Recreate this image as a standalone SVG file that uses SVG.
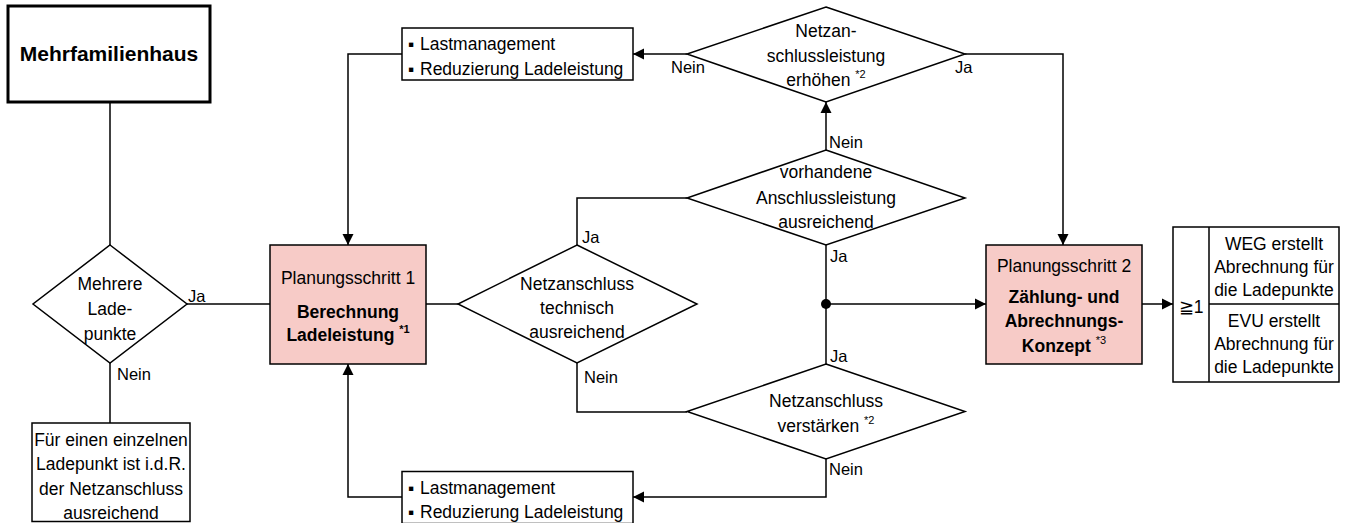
<svg xmlns="http://www.w3.org/2000/svg" width="1347" height="523" viewBox="0 0 1347 523">
<defs>
<style>
.ln{fill:none;stroke:#000;stroke-width:1.5}
.nd{fill:#fff;stroke:#000;stroke-width:1.5}
.pk{fill:#f7cbc7;stroke:#000;stroke-width:1.5}
text{font-family:"Liberation Sans",Arial,sans-serif;font-size:17.5px;fill:#000}
.c{text-anchor:middle}
.b{font-weight:bold}
.lb{font-size:16.5px}
.sup{font-size:11px}
</style>
<marker id="ah" markerUnits="userSpaceOnUse" markerWidth="12" markerHeight="12" viewBox="0 0 12 12" refX="11" refY="6" orient="auto">
<path d="M0,0.5 L11,6 L0,11.5 z" fill="#000"/>
</marker>
</defs>
<rect width="1347" height="523" fill="#fff"/>

<g id="connectors">
<path class="ln" d="M110,102 V245"/>
<path class="ln" d="M187,304 H270"/>
<path class="ln" d="M110,363 V423"/>
<path class="ln" d="M402,54 H348 V245" marker-end="url(#ah)"/>
<path class="ln" d="M402,497 H348 V364" marker-end="url(#ah)"/>
<path class="ln" d="M426,304 H458"/>
<path class="ln" d="M577,245 V198 H687"/>
<path class="ln" d="M577,363 V412 H687"/>
<path class="ln" d="M826,150 V102" marker-end="url(#ah)"/>
<path class="ln" d="M687,54 H633" marker-end="url(#ah)"/>
<path class="ln" d="M965,54 H1063 V245" marker-end="url(#ah)"/>
<path class="ln" d="M826,245 V364"/>
<circle cx="826" cy="304" r="5" fill="#000"/>
<path class="ln" d="M826,304 H986" marker-end="url(#ah)"/>
<path class="ln" d="M826,459 V497 H633" marker-end="url(#ah)"/>
<path class="ln" d="M1142,304 H1173" marker-end="url(#ah)"/>
<text class="lb" x="188" y="302">Ja</text>
<text class="lb" x="117" y="380">Nein</text>
<text class="lb" x="582" y="243">Ja</text>
<text class="lb" x="584" y="383">Nein</text>
<text class="lb" x="671" y="73">Nein</text>
<text class="lb" x="955" y="73">Ja</text>
<text class="lb" x="829" y="148">Nein</text>
<text class="lb" x="830" y="262">Ja</text>
<text class="lb" x="830" y="362">Ja</text>
<text class="lb" x="829" y="475">Nein</text>
</g>

<g id="mehrfamilienhaus">
<rect x="8" y="6" width="202" height="96" fill="#fff" stroke="#000" stroke-width="3"/>
<text class="c b" x="109" y="61" style="font-size:21px">Mehrfamilienhaus</text>
</g>

<g id="mehrere-ladepunkte">
<path class="nd" d="M110,245 L187,304 L110,363 L33,304 z"/>
<text class="c" x="110" y="290">Mehrere</text>
<text class="c" x="110" y="315">Lade-</text>
<text class="c" x="110" y="340">punkte</text>
</g>

<g id="einzelner-ladepunkt">
<rect class="nd" x="32" y="423" width="158" height="98.5"/>
<text class="c" x="111" y="445.5">Für einen einzelnen</text>
<text class="c" x="111" y="470">Ladepunkt ist i.d.R.</text>
<text class="c" x="111" y="494.5">der Netzanschluss</text>
<text class="c" x="111" y="519">ausreichend</text>
</g>

<g id="planungsschritt-1">
<rect class="pk" x="270" y="245" width="156" height="119"/>
<text class="c" x="348" y="284">Planungsschritt 1</text>
<text class="c b" x="348" y="318">Berechnung</text>
<text class="c b" x="348" y="341">Ladeleistung <tspan class="sup" dy="-8">*1</tspan></text>
</g>

<g id="massnahmen-oben">
<rect class="nd" x="402" y="28" width="231" height="52"/>
<text y="50"><tspan x="408">▪</tspan><tspan x="420">Lastmanagement</tspan></text>
<text y="75"><tspan x="408">▪</tspan><tspan x="420">Reduzierung Ladeleistung</tspan></text>
</g>

<g id="massnahmen-unten">
<rect class="nd" x="402" y="471.5" width="231" height="52"/>
<text y="493.5"><tspan x="408">▪</tspan><tspan x="420">Lastmanagement</tspan></text>
<text y="518"><tspan x="408">▪</tspan><tspan x="420">Reduzierung Ladeleistung</tspan></text>
</g>

<g id="netzanschluss-technisch">
<path class="nd" d="M577,245 L697,304 L577,363 L458,304 z"/>
<text class="c" x="577" y="290">Netzanschluss</text>
<text class="c" x="577" y="314">technisch</text>
<text class="c" x="577" y="338">ausreichend</text>
</g>

<g id="anschlussleistung-erhoehen">
<path class="nd" d="M826,7 L965,54 L826,102 L687,54 z"/>
<text class="c" x="826" y="37">Netzan-</text>
<text class="c" x="826" y="62">schlussleistung</text>
<text class="c" x="826" y="86">erhöhen <tspan class="sup" dy="-8">*2</tspan></text>
</g>

<g id="vorhandene-anschlussleistung">
<path class="nd" d="M826,150 L965,198 L826,245 L687,198 z"/>
<text class="c" x="826" y="178">vorhandene</text>
<text class="c" x="826" y="204">Anschlussleistung</text>
<text class="c" x="826" y="228">ausreichend</text>
</g>

<g id="netzanschluss-verstaerken">
<path class="nd" d="M826,364 L965,411.5 L826,459 L687,411.5 z"/>
<text class="c" x="826" y="407">Netzanschluss</text>
<text class="c" x="826" y="432">verstärken <tspan class="sup" dy="-8">*2</tspan></text>
</g>

<g id="planungsschritt-2">
<rect class="pk" x="986" y="245" width="156" height="119"/>
<text class="c" x="1064" y="272">Planungsschritt 2</text>
<text class="c b" x="1064" y="303">Zählung- und</text>
<text class="c b" x="1064" y="327">Abrechnungs-</text>
<text class="c b" x="1064" y="352">Konzept <tspan class="sup" style="font-weight:normal" dy="-8">*3</tspan></text>
</g>

<g id="abrechnung">
<rect class="nd" x="1173" y="227" width="166" height="155"/>
<path class="ln" d="M1209,227 V382 M1209,304 H1339"/>
<text class="c" x="1191" y="313">≧1</text>
<text class="c" x="1274" y="250">WEG erstellt</text>
<text class="c" x="1274" y="273">Abrechnung für</text>
<text class="c" x="1274" y="296">die Ladepunkte</text>
<text class="c" x="1274" y="327">EVU erstellt</text>
<text class="c" x="1274" y="350">Abrechnung für</text>
<text class="c" x="1274" y="373">die Ladepunkte</text>
</g>
</svg>
